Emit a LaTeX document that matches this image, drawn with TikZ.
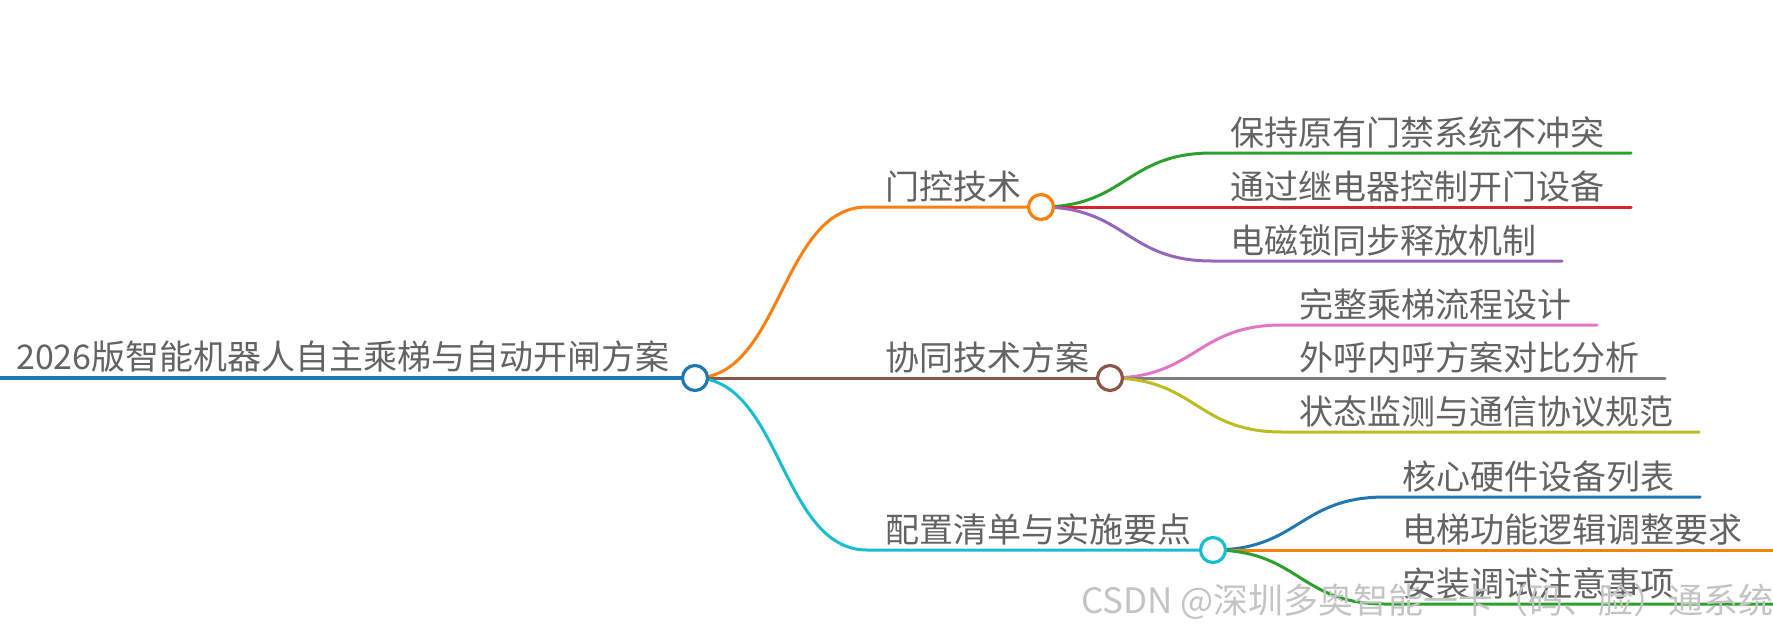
\documentclass[tikz,border=0pt]{standalone}
\usepackage{fontspec}
\setmainfont{Noto Sans CJK SC}
\definecolor{cRoot}{HTML}{1F77B4}
\definecolor{cOrange}{HTML}{FF7F0E}
\definecolor{cBrown}{HTML}{8C564B}
\definecolor{cCyan}{HTML}{17BECF}
\definecolor{cGreen}{HTML}{2CA02C}
\definecolor{cRed}{HTML}{D62728}
\definecolor{cPurple}{HTML}{9467BD}
\definecolor{cPink}{HTML}{E377C2}
\definecolor{cGray}{HTML}{7F7F7F}
\definecolor{cOlive}{HTML}{BCBD22}
\definecolor{txt}{HTML}{636363}
\definecolor{wm}{HTML}{C4C4C4}
\tikzset{
  link/.style={line width=3pt, line cap=round},
  dot/.style={circle, draw, fill=white, line width=3.2pt, minimum size=25pt, inner sep=0pt},
  lbl/.style={anchor=base west, inner sep=0pt, text=txt, font=\fontsize{34}{34}\selectfont},
}
\begin{document}
\begin{tikzpicture}[x=1pt, y=-1pt]
\useasboundingbox (0,0) rectangle (1773,630);
% coordinates
\coordinate (rs) at (0,378);
\coordinate (b1s) at (867,207);
\coordinate (b3s) at (867,550);
\coordinate (l11) at (1212,153); \coordinate (l11e) at (1631,153);
\coordinate (l12) at (1212,207); \coordinate (l12e) at (1631,207);
\coordinate (l13) at (1212,261); \coordinate (l13e) at (1562,261);
\coordinate (l21) at (1282,325); \coordinate (l21e) at (1597,325);
\coordinate (l22) at (1282,378); \coordinate (l22e) at (1665,378);
\coordinate (l23) at (1282,432); \coordinate (l23e) at (1699,432);
\coordinate (l31) at (1385,497); \coordinate (l31e) at (1700,497);
\coordinate (l32) at (1385,550); \coordinate (l32e) at (1773,550);
\coordinate (l33) at (1385,604); \coordinate (l33e) at (1773,604);
% circle positions (drawn later)
\coordinate (rc) at (695,378);
\coordinate (c1) at (1041,207);
\coordinate (c2) at (1110,378);
\coordinate (c3) at (1213,550);
% root line
\draw[link, cRoot, line width=4pt, line cap=butt] (rs) -- (rc);
% branches
\draw[link, cOrange] (rc) .. controls (781,378) and (781,207) .. (b1s) -- (c1);
\draw[link, cBrown] (rc) -- (c2);
\draw[link, cCyan] (rc) .. controls (781,378) and (781,550) .. (b3s) -- (c3);
% leaves of branch 1
\draw[link, cGreen] (c1) .. controls (1126,207) and (1126,153) .. (l11) -- (l11e);
\draw[link, cRed] (c1) -- (l12) -- (l12e);
\draw[link, cPurple] (c1) .. controls (1126,207) and (1126,261) .. (l13) -- (l13e);
% leaves of branch 2
\draw[link, cPink] (c2) .. controls (1196,378) and (1196,325) .. (l21) -- (l21e);
\draw[link, cGray] (c2) -- (l22) -- (l22e);
\draw[link, cOlive] (c2) .. controls (1196,378) and (1196,432) .. (l23) -- (l23e);
% leaves of branch 3
\draw[link, cRoot] (c3) .. controls (1299,550) and (1299,497) .. (l31) -- (l31e);
\draw[link, cOrange, line cap=butt] (c3) -- (l32) -- (l32e);
\draw[link, cGreen, line cap=butt] (c3) .. controls (1299,550) and (1299,604) .. (l33) -- (l33e);
% circles
\node[dot, draw=cRoot] (root) at (rc) {};
\node[dot, draw=cOrange] (n1) at (c1) {};
\node[dot, draw=cBrown] (n2) at (c2) {};
\node[dot, draw=cCyan] (n3) at (c3) {};
% labels
\node[lbl] (troot) at (16,369) {2026版智能机器人自主乘梯与自动开闸方案};
\node[lbl] (t1) at (885,199) {门控技术};
\node[lbl] (t2) at (885,370) {协同技术方案};
\node[lbl] (t3) at (885,542) {配置清单与实施要点};
\node[lbl] (t11) at (1230,145) {保持原有门禁系统不冲突};
\node[lbl] (t12) at (1230,199) {通过继电器控制开门设备};
\node[lbl] (t13) at (1230,253) {电磁锁同步释放机制};
\node[lbl] (t21) at (1299,317) {完整乘梯流程设计};
\node[lbl] (t22) at (1299,370) {外呼内呼方案对比分析};
\node[lbl] (t23) at (1299,424) {状态监测与通信协议规范};
\node[lbl] (t31) at (1402,489) {核心硬件设备列表};
\node[lbl] (t32) at (1402,542) {电梯功能逻辑调整要求};
\node[lbl] (t33) at (1402,596) {安装调试注意事项};
% watermark
\node[anchor=base west, inner sep=0pt, text=wm, font=\fontsize{35}{35}\selectfont] (wmk) at (1081,613) {CSDN @深圳多奥智能一卡（码、脸）通系统};
\end{tikzpicture}
\end{document}
